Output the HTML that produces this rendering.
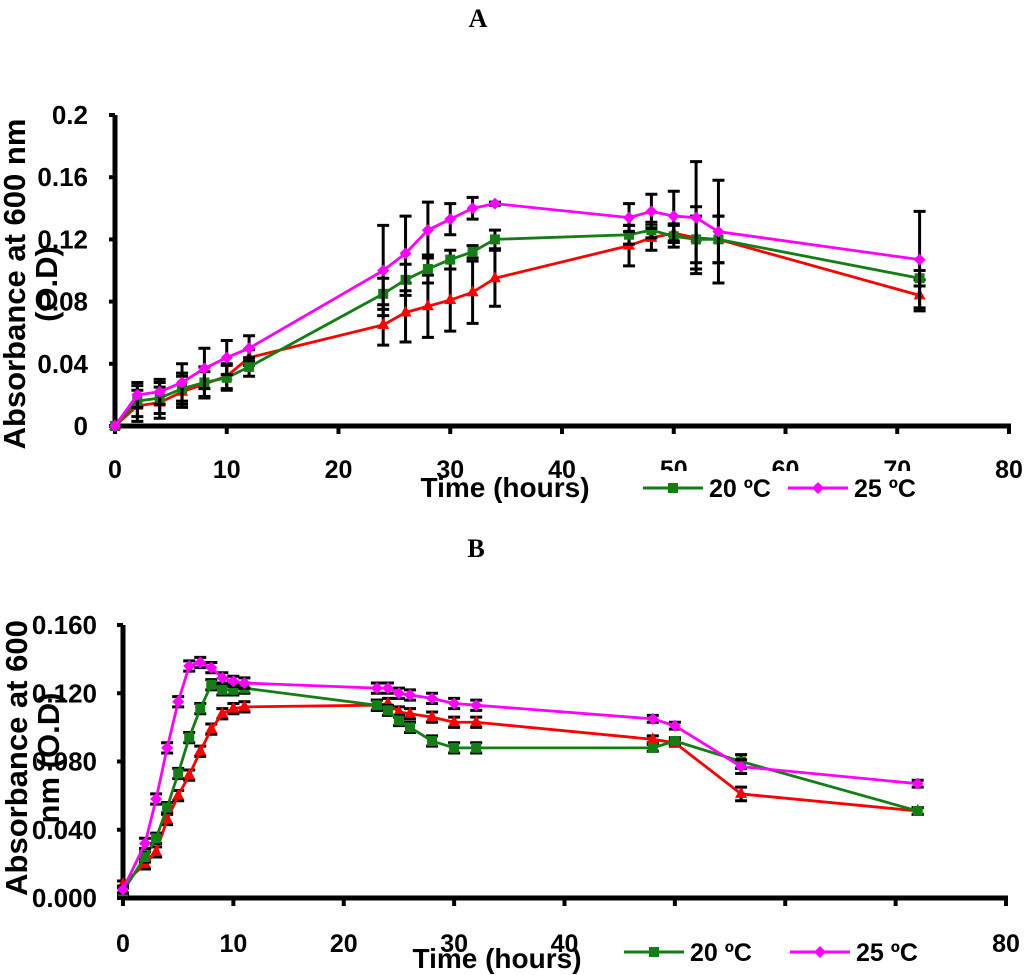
<!DOCTYPE html>
<html><head><meta charset="utf-8">
<style>
body{margin:0;background:#fff;}
svg{display:block;font-family:"Liberation Sans",Arial,sans-serif;}
</style></head>
<body>
<svg id="chart" width="1024" height="975" viewBox="0 0 1024 975"></svg>
<script>
const NS="http://www.w3.org/2000/svg";
const svg=document.getElementById('chart');

// ---- Panel A data ----
const timesA=[0,2,4,6,8,10,12,24,26,28,30,32,34,46,48,50,52,54,72];
const magentaA=[0,.020,.022,.028,.037,.044,.050,.100,.111,.126,.133,.140,.143,.134,.138,.135,.134,.125,.107];
const magentaErrA=[0,.008,.008,.012,.013,.011,.008,.029,.024,.018,.010,.007,.001,.009,.011,.016,.036,.033,.031];
const greenA=[0,.016,.018,.024,.028,.031,.038,.085,.094,.101,.107,.112,.120,.123,.126,.122,.120,.120,.095];
const greenErrA=[0,.010,.010,.010,.010,.008,.006,.010,.010,.009,.006,.004,.006,.006,.005,.007,.015,.015,.005];
const redA=[0,.013,.015,.022,.027,.032,.044,.065,.073,.077,.081,.086,.095,.116,.121,.124,.121,.120,.084];
const redErrA=[0,.010,.010,.010,.008,.008,.005,.013,.019,.020,.020,.020,.018,.013,.008,.006,.020,.015,.010];
const yTicksA=["0","0.04","0.08","0.12","0.16","0.2"];
const yTickValsA=[0,.04,.08,.12,.16,.2];
const xTicks=[0,10,20,30,40,50,60,70,80];

// ---- Panel B data ----
const timesB=[0,2,3,4,5,6,7,8,9,10,11,23,24,25,26,28,30,32,48,50,56,72];
const magentaB=[.005,.032,.058,.088,.115,.136,.138,.135,.129,.127,.126,.123,.123,.120,.119,.117,.114,.113,.105,.101,.077,.067];
const greenB=[.004,.024,.035,.053,.073,.094,.111,.125,.122,.122,.123,.113,.110,.104,.100,.092,.088,.088,.088,.092,.080,.051];
const redB=[.008,.020,.027,.046,.060,.072,.086,.099,.108,.111,.112,.113,.114,.109,.108,.106,.103,.103,.093,.091,.061,.051];
const errB=[.002,.003,.003,.003,.003,.003,.003,.003,.003,.003,.003,.003,.003,.003,.003,.003,.003,.003,.002,.002,.004,.002];
const yTicksB=["0.000","0.040","0.080","0.120","0.160"];
const yTickValsB=[0,.04,.08,.12,.16];

function el(tag,attrs,parent){const e=document.createElementNS(NS,tag);for(const k in attrs)e.setAttribute(k,attrs[k]);(parent||svg).appendChild(e);return e;}
function txt(s,attrs,parent){const e=el('text',attrs,parent);e.textContent=s;return e;}

function panel(cfg){
  const g=el('g',{});
  
  
  const X=v=>cfg.x0+(v/80)*(cfg.x1-cfg.x0);
  const Y=v=>cfg.y0-(v/cfg.ymax)*(cfg.y0-cfg.y1);
  const tt=txt(cfg.title,{x:cfg.titleX,y:cfg.titleY,'font-family':'"Liberation Serif",serif','font-size':26,'font-weight':'bold','text-anchor':'middle'},g);
  
  
  const ya=el('line',{x1:cfg.x0,y1:cfg.y1,x2:cfg.x0,y2:cfg.y0+2,stroke:'#000','stroke-width':5},g);
  
  
  const xa=el('line',{x1:cfg.x0-2,y1:cfg.y0,x2:cfg.x1+2,y2:cfg.y0,stroke:'#000','stroke-width':5},g);
  
  
  cfg.yTickVals.forEach((v,i)=>{
    el('line',{x1:cfg.x0-6,y1:Y(v),x2:cfg.x0,y2:Y(v),stroke:'#000','stroke-width':4},g);
    const t=txt(cfg.yTicks[i],{x:cfg.x0-cfg.ylabOff,y:Y(v)+9,'font-size':26,'font-weight':'bold','text-anchor':'end'},g);
    
    
  });
  xTicks.forEach(v=>{
    el('line',{x1:X(v),y1:cfg.y0,x2:X(v),y2:cfg.y0+8,stroke:'#000','stroke-width':4},g);
    const t=txt(String(v),{x:X(v),y:cfg.xlabY,'font-size':25,'font-weight':'bold','text-anchor':'middle'},g);
    
    
  });
  const yt=el('g',{transform:`translate(${cfg.ytX},${cfg.ytY}) rotate(-90)`},g);
  
  
  txt(cfg.yt1,{x:0,y:0,'font-size':31,'font-weight':'bold','text-anchor':'middle'},yt);
  txt(cfg.yt2,{x:0,y:32,'font-size':31,'font-weight':'bold','text-anchor':'middle'},yt);
  cfg.series.forEach(s=>{
    const sg=el('g',{},g);
    
    
    s.vals.forEach((v,i)=>{
      const e=s.err[i]; if(!e) return;
      const x=X(cfg.times[i]);
      el('path',{d:`M${x},${Y(v-e)}V${Y(v+e)}M${x-6},${Y(v-e)}h12M${x-6},${Y(v+e)}h12`,stroke:'#000','stroke-width':3,fill:'none'},sg);
    });
    const pts=s.vals.map((v,i)=>X(cfg.times[i])+','+Y(v)).join(' ');
    el('polyline',{points:pts,fill:'none',stroke:s.color,'stroke-width':2.8},sg);
    s.vals.forEach((v,i)=>{
      const x=X(cfg.times[i]),y=Y(v);
      let m;
      if(s.marker==='sq') m=el('rect',{x:x-5,y:y-5,width:10,height:10,fill:s.color},sg);
      else if(s.marker==='di') m=el('path',{d:`M${x},${y-6}L${x+6},${y}L${x},${y+6}L${x-6},${y}Z`,fill:s.color},sg);
      else m=el('path',{d:`M${x},${y-7}L${x+6},${y+4}L${x-6},${y+4}Z`,fill:s.color},sg);
      
      
    });
  });
  const L=cfg.legend;
  // legend background (occludes tick labels, as in the original)
  const lb=el('rect',{x:L.g1-10,y:L.bgTop,width:L.g2+145-L.g1,height:40,fill:'#fff'},g);
  
  
  const xt=txt('Time (hours)',{x:cfg.xtX,y:cfg.xtY,'font-size':28,'font-weight':'bold','text-anchor':'middle'},g);
  
  
  const lg=el('g',{},g);
  
  
  const e1=el('g',{},lg);
  
  
  el('line',{x1:L.g1,y1:L.y,x2:L.g1+60,y2:L.y,stroke:'#137e13','stroke-width':3},e1);
  el('rect',{x:L.g1+25,y:L.y-5,width:10,height:10,fill:'#137e13'},e1);
  txt('20 ºC',{x:L.g1+66,y:L.y+9,'font-size':25,'font-weight':'bold'},e1);
  const e2=el('g',{},lg);
  
  
  el('line',{x1:L.g2,y1:L.y,x2:L.g2+60,y2:L.y,stroke:'#ff00ff','stroke-width':3},e2);
  el('path',{d:`M${L.g2+30},${L.y-6}l6,6l-6,6l-6,-6Z`,fill:'#ff00ff'},e2);
  txt('25 ºC',{x:L.g2+66,y:L.y+9,'font-size':25,'font-weight':'bold'},e2);
}

panel({name:'panel-a',title:'A',titleX:478,titleY:27,x0:115,x1:1009,y0:426,y1:115,ymax:.2,
  yTicks:yTicksA,yTickVals:yTickValsA,ylabOff:27,xlabY:478,times:timesA,
  ytX:25,ytY:284,yt1:'Absorbance at 600 nm',yt2:'(O.D)',xtX:505,xtY:497,
  series:[
    {name:'series-red',color:'#ff0000',marker:'tri',vals:redA,err:redErrA},
    {name:'series-20c',color:'#137e13',marker:'sq',vals:greenA,err:greenErrA},
    {name:'series-25c',color:'#ff00ff',marker:'di',vals:magentaA,err:magentaErrA}],
  legend:{y:488,g1:643,g2:788,bgTop:471}});

panel({name:'panel-b',title:'B',titleX:476,titleY:557,x0:123,x1:1006,y0:898,y1:625,ymax:.16,
  yTicks:yTicksB,yTickVals:yTickValsB,ylabOff:26,xlabY:952,times:timesB,
  ytX:27,ytY:758,yt1:'Absorbance at 600',yt2:'nm (O.D)',xtX:497,xtY:968,
  series:[
    {name:'series-red',color:'#ff0000',marker:'tri',vals:redB,err:errB},
    {name:'series-20c',color:'#137e13',marker:'sq',vals:greenB,err:errB},
    {name:'series-25c',color:'#ff00ff',marker:'di',vals:magentaB,err:errB}],
  legend:{y:952,g1:624,g2:790,bgTop:933}});
</script>
</body></html>
